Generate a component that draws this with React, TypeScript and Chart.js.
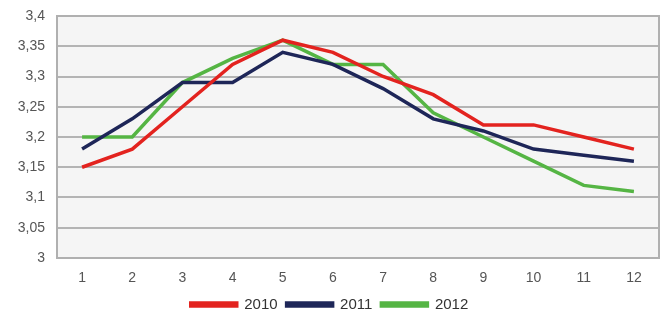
import React, { useEffect, useRef } from "react";
import { Chart, registerables } from "chart.js";

Chart.register(...registerables);

const categories = ["1", "2", "3", "4", "5", "6", "7", "8", "9", "10", "11", "12"];
const seriesNames = ["2010", "2011", "2012"];
const values2010 = [3.15, 3.18, 3.25, 3.32, 3.36, 3.34, 3.3, 3.27, 3.22, 3.22, 3.2, 3.18];
const values2011 = [3.18, 3.23, 3.29, 3.29, 3.34, 3.32, 3.28, 3.23, 3.21, 3.18, 3.17, 3.16];
const values2012 = [3.2, 3.2, 3.29, 3.33, 3.36, 3.32, 3.32, 3.24, 3.2, 3.16, 3.12, 3.11];
const yTicks = [3, 3.05, 3.1, 3.15, 3.2, 3.25, 3.3, 3.35, 3.4];
const colors = ["#e3231f", "#1e2658", "#55b544"];

const plotBg = {
  id: "plotBg",
  beforeDraw(chart: any) {
    const { ctx, chartArea } = chart;
    ctx.save();
    ctx.fillStyle = "#f5f5f5";
    ctx.fillRect(chartArea.left, chartArea.top, chartArea.right - chartArea.left, chartArea.bottom - chartArea.top);
    ctx.restore();
  },
  afterDraw(chart: any) {
    const { ctx, chartArea } = chart;
    ctx.save();
    ctx.strokeStyle = "#b0b0b0";
    ctx.lineWidth = 2;
    ctx.strokeRect(chartArea.left, chartArea.top, chartArea.right - chartArea.left, chartArea.bottom - chartArea.top);
    ctx.restore();
  },
};

export default function App() {
  const ref = useRef<HTMLCanvasElement>(null);
  useEffect(() => {
    document.body.style.margin = "0";
    const all = [values2010, values2011, values2012];
    const chart = new Chart(ref.current!, {
      type: "line",
      data: {
        labels: categories,
        datasets: all.map((v, i) => ({
          label: seriesNames[i],
          data: v,
          borderColor: colors[i],
          backgroundColor: colors[i],
          borderWidth: 3.5,
          pointRadius: 0,
          tension: 0,
        })),
      },
      options: {
        animation: false,
        responsive: false,
        layout: { padding: { top: 16, right: 12, left: 0, bottom: 0 } },
        plugins: {
          tooltip: { enabled: false },
          legend: {
            position: "bottom",
            labels: {
              boxWidth: 46,
              boxHeight: 3,
              padding: 9,
              color: "#333",
              font: { family: "Liberation Sans, Arial", size: 15 },
            },
          },
        },
        scales: {
          x: {
            offset: true,
            grid: { display: false, drawTicks: false },
            border: { color: "#a0a0a0", width: 2 },
            ticks: { color: "#555", padding: 12, font: { family: "Liberation Sans, Arial", size: 14 } },
            afterFit(s: any) { s.height = 30; },
          },
          y: {
            min: 3,
            max: 3.4,
            afterBuildTicks(s: any) { s.ticks = yTicks.map((v) => ({ value: v })); },
            grid: { color: "#b4b4b4", lineWidth: 2, drawTicks: false },
            border: { color: "#a0a0a0", width: 2 },
            ticks: {
              color: "#555",
              padding: 12,
              font: { family: "Liberation Sans, Arial", size: 14 },
              callback: (v: any) => String(Number(v).toFixed(2)).replace(/0+$/, "").replace(/\.$/, "").replace(".", ","),
            },
            afterFit(s: any) { s.width = 57; s.paddingTop = 0; s.paddingBottom = 0; },
          },
        },
      },
      plugins: [plotBg],
    });
    return () => chart.destroy();
  }, []);
  return (
    <div style={{ width: 671, height: 309, overflow: "hidden", background: "#fff" }}>
      <canvas ref={ref} width={671} height={322} style={{ display: "block" }} />
    </div>
  );
}
